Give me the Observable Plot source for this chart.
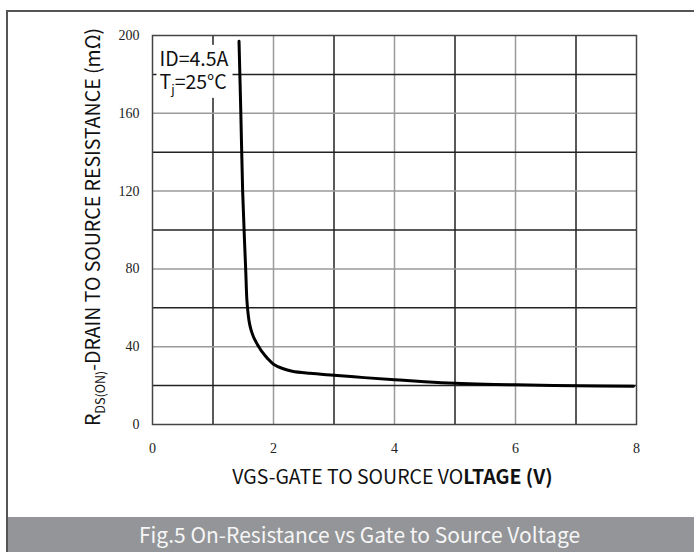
<!DOCTYPE html>
<html>
<head>
<meta charset="utf-8">
<script src="https://cdn.jsdelivr.net/npm/d3@7"></script>
<script src="https://cdn.jsdelivr.net/npm/@observablehq/plot@0.6"></script>
<style>
  html, body { margin: 0; padding: 0; background: #fff; }
  #page { position: relative; width: 694px; height: 552px; overflow: hidden; }
  #frame { position: absolute; left: 6px; top: 10px; right: 0; bottom: 0;
           border-left: 2px solid #555; border-top: 2px solid #555; }
  #chart { position: absolute; left: 0; top: 0; }
  #caption { position: absolute; left: 0; right: 0; bottom: 0; height: 35px;
             background: #939598; color: #f6f6f6; white-space: nowrap;
             font: 21px "Noto Sans CJK SC", "Noto Sans", sans-serif;
             line-height: 35px; padding-left: 131px; }
</style>
</head>
<body>
<div id="page">
  <div id="frame">
    <div id="chart"></div>
    <div id="caption">Fig.5 On-Resistance vs Gate to Source Voltage</div>
  </div>
</div>
<script>
// Gate-source voltage (V) and on-resistance (mΩ) along the curve
const vgs = [1.43, 1.46, 1.49, 1.52, 1.54, 1.56, 1.58, 1.6, 1.63, 1.67, 1.71, 1.75, 1.8, 1.9, 2.0, 2.15, 2.31, 2.6, 3.0, 3.5, 4.0, 4.5, 5.0, 5.5, 6.0, 7.0, 7.95];
const rdsOn = [197, 160, 120, 95, 80, 64, 57, 52.5, 48.5, 45, 42.5, 40.3, 37.8, 34, 31, 28.8, 27.4, 26.3, 25.3, 24.1, 23.0, 22.0, 21.2, 20.7, 20.4, 19.9, 19.7];

// Axis ticks and grid lines
const xTicks = [0, 2, 4, 6, 8];
const yTicks = [0, 40, 80, 120, 160, 200];
const xGrid = [1, 2, 3, 4, 5, 6, 7];
const yGrid = [20, 40, 60, 80, 100, 120, 140, 160, 180];

// Text pieces: [text, style]
const yLabelParts = [["R", ""], ["DS(ON)", "sub"], ["-DRAIN TO SOURCE RESISTANCE (mΩ)", ""]];
const xLabelParts = [["VGS-GATE TO SOURCE VO", ""], ["LTAGE (V)", "bold"]];
const idNote = "ID=4.5A";
const tjParts = [["T", ""], ["j", "sub"], ["=25°C", ""]];

const curve = vgs.map((v, i) => ({vgs: v, rds: rdsOn[i]}));
const join = parts => parts.map(p => p[0]).join("");
const sans = "'Noto Sans CJK SC', 'Noto Sans', sans-serif";
const labelSize = 19.5;
const noteText = idNote + "\n" + join(tjParts);

const chart = Plot.plot({
  width: 686,
  height: 505,
  marginLeft: 144,
  marginRight: 58,
  marginTop: 23,
  marginBottom: 93,
  style: {fontFamily: sans, background: "transparent", overflow: "visible"},
  x: {domain: [0, 8]},
  y: {domain: [0, 200]},
  marks: [
    Plot.ruleX(xGrid, {x: d => d, stroke: d => (d % 2 ? "#222" : "#9a9a9a"), strokeWidth: 1.5}),
    Plot.ruleY(yGrid, {y: d => d, stroke: d => ((d / 20) % 2 ? "#222" : "#9a9a9a"), strokeWidth: 1.5}),
    Plot.frame({stroke: "#444", strokeWidth: 1.5}),
    Plot.text([noteText], {frameAnchor: "top-left", text: d => d, textAnchor: "start", lineAnchor: "top",
      lineHeight: 23 / labelSize, dx: 7, dy: 14, fontSize: labelSize, fill: "#111"}),
    Plot.line(curve, {x: "vgs", y: "rds", curve: "catmull-rom", stroke: "#000", strokeWidth: 3}),
    Plot.axisX({ticks: xTicks, tickSize: 0, tickPadding: 19, label: null,
      fontFamily: "'Liberation Serif', serif", fontSize: 14, fill: "#222"}),
    Plot.axisY({ticks: yTicks, tickSize: 0, tickPadding: 13, label: null,
      fontFamily: "'Liberation Serif', serif", fontSize: 14, fill: "#222"}),
    Plot.text([join(yLabelParts)], {frameAnchor: "left", text: d => d, rotate: -90, textAnchor: "middle",
      lineAnchor: "middle", dx: -59, dy: -3, fontSize: labelSize, fill: "#111"}),
    Plot.text([join(xLabelParts)], {frameAnchor: "bottom", text: d => d, textAnchor: "middle",
      lineAnchor: "middle", dx: -2, dy: 53, fontSize: labelSize, fill: "#111"})
  ]
});

// Rebuild labels (or label lines) that need subscripts or a bold run as tspans
function richText(parts) {
  const full = join(parts);
  d3.select(chart).selectAll("text, tspan")
    .filter(function () { return this.textContent === full; })
    .each(function () {
      const t = d3.select(this);
      t.text(null);
      let shifted = false;
      for (const [s, style] of parts) {
        const span = t.append("tspan").text(s);
        if (style === "sub") {
          span.attr("font-size", 12.5).attr("dy", 5);
          shifted = true;
        } else {
          if (shifted) { span.attr("dy", -5); shifted = false; }
          if (style === "bold") span.attr("font-weight", "bold");
        }
      }
    });
}
richText(yLabelParts);
richText(xLabelParts);
richText(tjParts);

document.getElementById("chart").appendChild(chart);

// White box behind the test-condition note, sized from the note's own text
const noteNode = d3.select(chart).selectAll("text")
  .filter(function () { return this.textContent === idNote + join(tjParts); }).node();
if (noteNode) {
  const b = noteNode.getBBox();
  const m = noteNode.getCTM();
  const x0 = b.x + m.e - 3, y0 = b.y + m.f + 2;
  const w = b.width + 7, h = b.height - 2;
  const group = noteNode.parentNode;
  d3.select(group.parentNode).insert("rect", () => group)
    .attr("x", x0).attr("y", y0).attr("width", w).attr("height", h)
    .attr("fill", "white");
}
</script>
</body>
</html>
